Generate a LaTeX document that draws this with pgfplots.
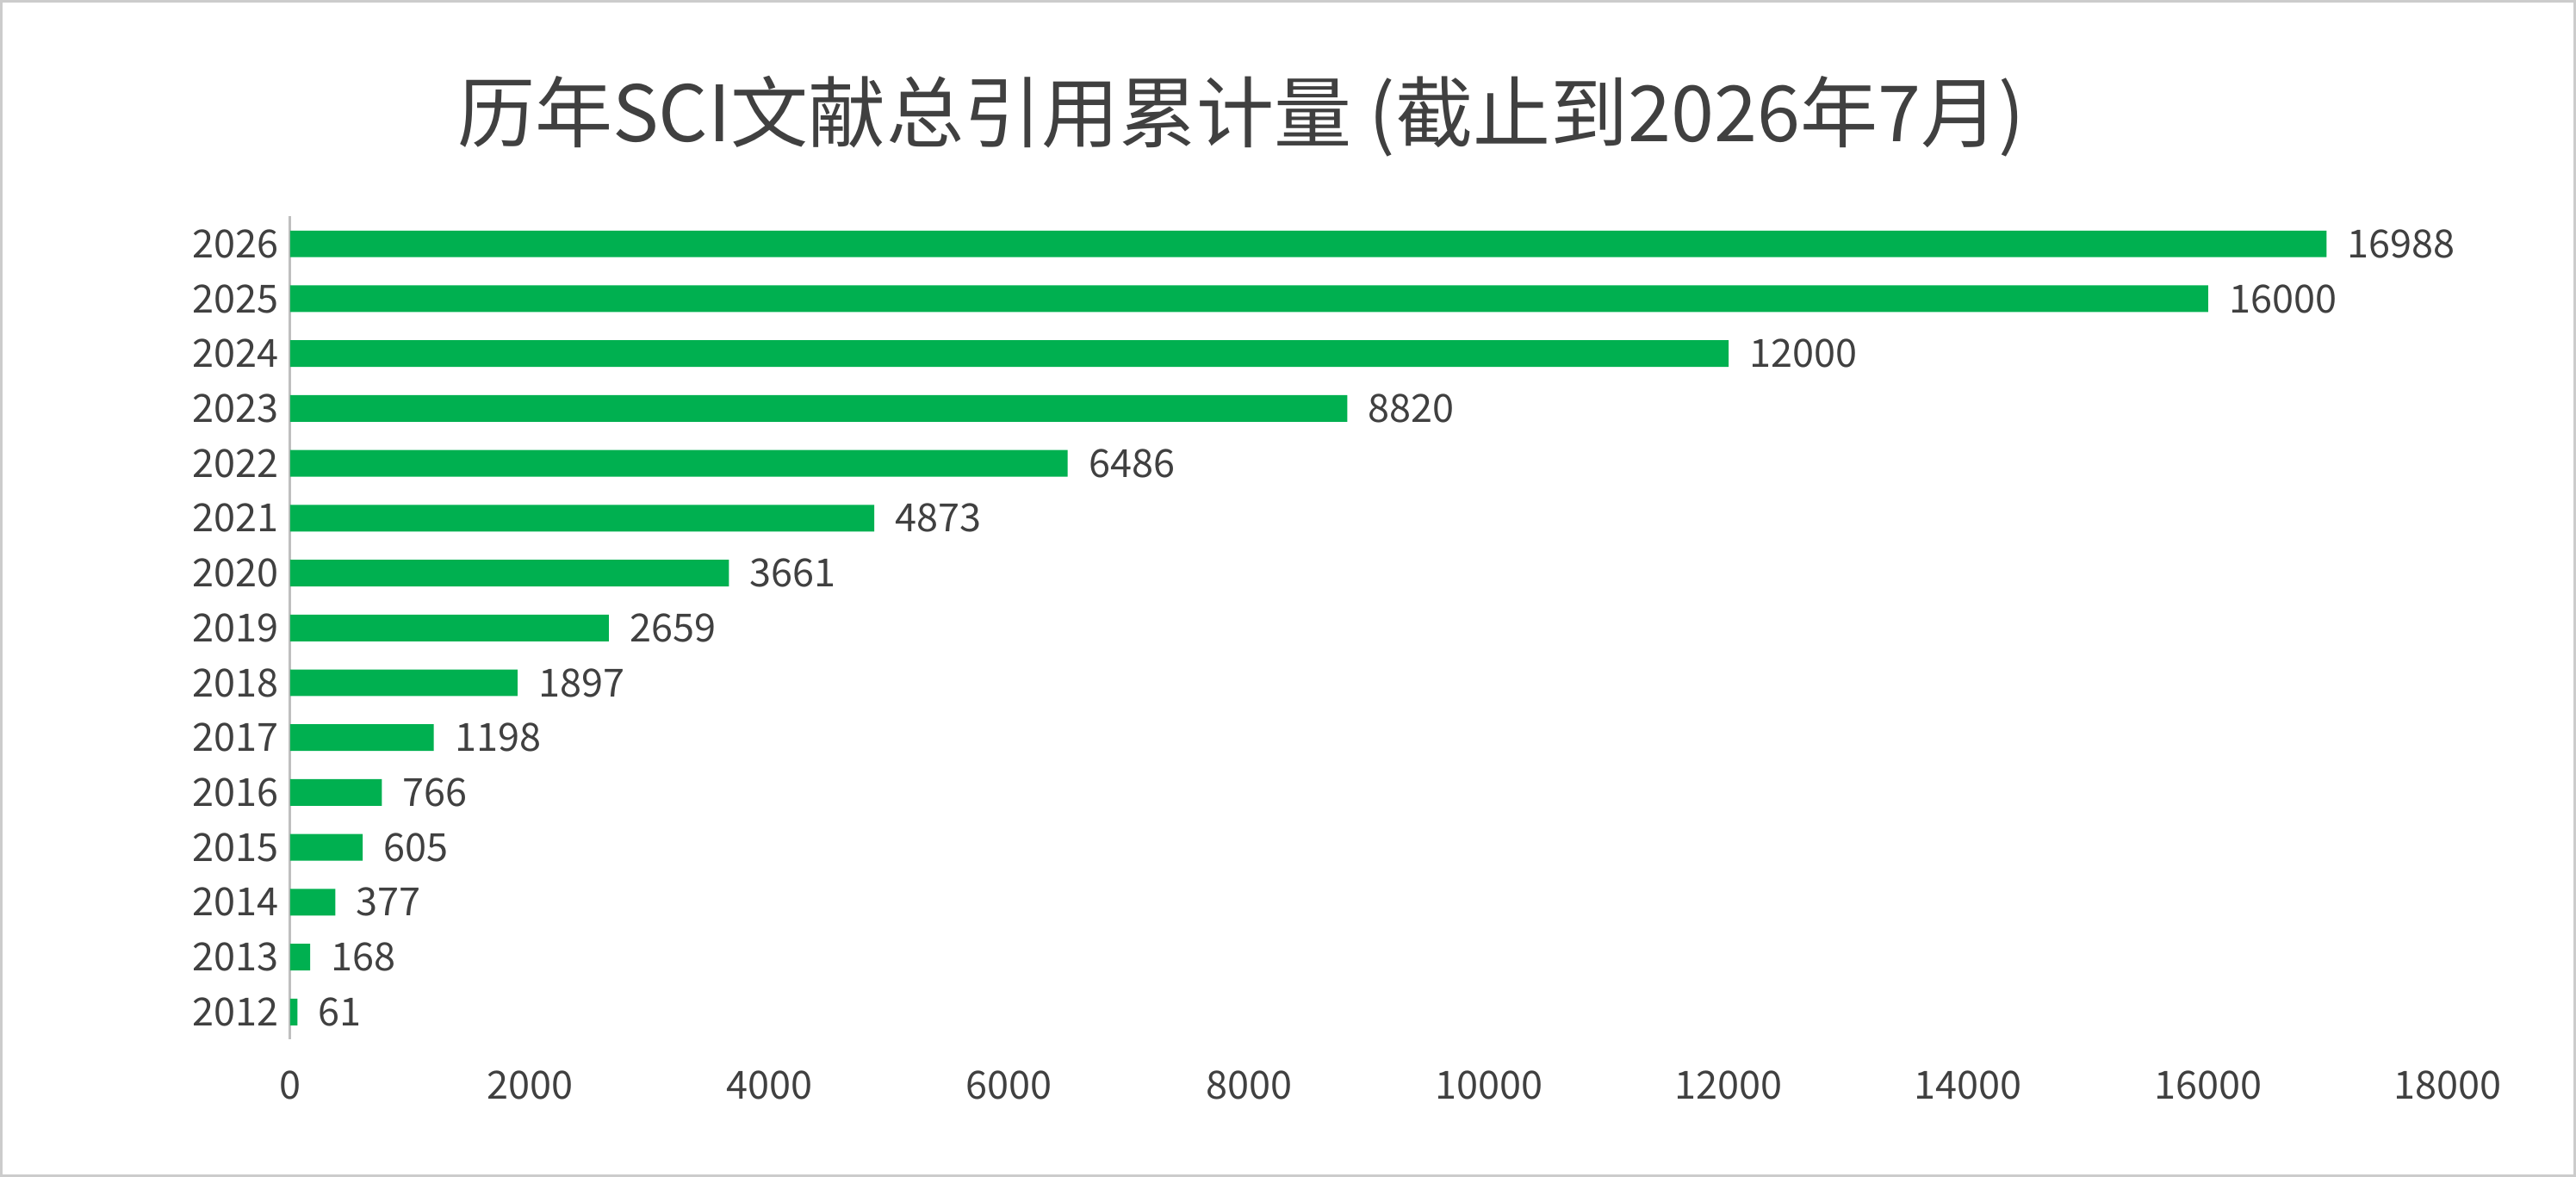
\documentclass[border=0pt]{standalone}
\usepackage{pgfplots}
\pgfplotsset{compat=1.18}
\usepackage{fontspec}
\setmainfont{Noto Sans CJK SC}
\definecolor{bar}{HTML}{00B050}
\definecolor{txt}{HTML}{404040}
\begin{document}
\begin{tikzpicture}[x=1cm,y=1cm]
\draw[black!20, line width=0.8pt] (-3.14,-1.48) rectangle (24.84,11.29);
\begin{axis}[at={(0,0)},anchor=origin,
 scale only axis, width=23.46cm, height=8.95cm,
 xbar, bar width=0.29cm,
 xmin=0, xmax=18000, ymin=2011.5, ymax=2026.5,
 xtick={0,2000,...,18000}, ytick={2012,...,2026},
 scaled x ticks=false,
 /pgf/number format/assume math mode=true,
 xticklabel style={/pgf/number format/1000 sep={}, font=\fontsize{12}{14}\selectfont, text=txt},
 yticklabel style={/pgf/number format/1000 sep={}, font=\fontsize{12}{14}\selectfont, text=txt},
 yticklabel={\pgfmathprintnumber[1000 sep={},fixed]{\tick}},
 axis x line=none, axis y line*=left,
 y axis line style={black!25, line width=0.8pt, -},
 major tick length=0pt,
 ytick style={draw=none},
 nodes near coords,
 every node near coord/.append style={font=\fontsize{12}{14}\selectfont, text=txt, xshift=3pt, /pgf/number format/1000 sep={}},
 clip=false,
]
\addplot[fill=bar, draw=none] coordinates {
(61,2012) (168,2013) (377,2014) (605,2015) (766,2016) (1198,2017) (1897,2018) (2659,2019) (3661,2020) (4873,2021) (6486,2022) (8820,2023) (12000,2024) (16000,2025) (16988,2026)};
\end{axis}
\foreach \v [count=\i from 0] in {0,2000,4000,6000,8000,10000,12000,14000,16000,18000}
  \node[text=txt, font=\fontsize{12}{14}\selectfont] at (\i*23.46/9,-0.5) {\v};
\node[text=txt, font=\fontsize{24}{28}\selectfont] at (10.34,10.04) {历年SCI文献总引用累计量 (截止到2026年7月)};
\end{tikzpicture}
\end{document}
